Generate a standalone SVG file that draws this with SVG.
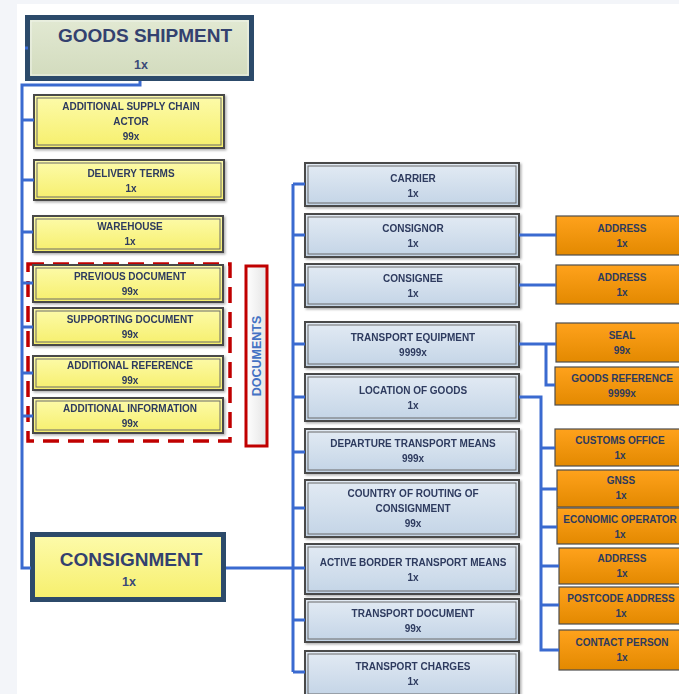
<svg xmlns="http://www.w3.org/2000/svg" width="679" height="694" viewBox="0 0 679 694">
<defs>
<linearGradient id="gy" x1="0" y1="0" x2="0" y2="1"><stop offset="0" stop-color="#fdfbab"/><stop offset="1" stop-color="#f6ef6c"/></linearGradient>
<linearGradient id="gb" x1="0" y1="0" x2="0" y2="1"><stop offset="0" stop-color="#e3ebf4"/><stop offset="1" stop-color="#c3d4e6"/></linearGradient>
<linearGradient id="go" x1="0" y1="0" x2="0" y2="1"><stop offset="0" stop-color="#ffa21c"/><stop offset="1" stop-color="#e38900"/></linearGradient>
<linearGradient id="gg" x1="0" y1="0" x2="0" y2="1"><stop offset="0" stop-color="#e2e9d3"/><stop offset="1" stop-color="#d2dbbd"/></linearGradient>
<linearGradient id="gd" x1="0" y1="0" x2="1" y2="0"><stop offset="0" stop-color="#ffffff"/><stop offset="1" stop-color="#e4e4e4"/></linearGradient>
<filter id="sh" x="-5%" y="-10%" width="115%" height="130%"><feDropShadow dx="1.5" dy="1.5" stdDeviation="1" flood-color="#000" flood-opacity="0.3"/></filter>
</defs>
<style>
text{font-family:"Liberation Sans",Arial,sans-serif;font-weight:bold;fill:#2d3a5e;text-anchor:middle}
.t{font-size:10px}
.big{font-size:19px;fill:#33416f}
.bx{font-size:12.5px}
.yo{fill:url(#gy);stroke:#4a4a4a;stroke-width:2}
.bo{fill:url(#gb);stroke:#4a4a4a;stroke-width:2}
.in{fill:none;stroke:#6a6a6a;stroke-width:1}
.or{fill:url(#go);stroke:#4d4d4d;stroke-width:1.2}
.c{fill:none;stroke:#3a6ad0;stroke-width:3;stroke-linejoin:miter}
</style>
<rect x="0" y="0" width="679" height="694" fill="#f3f5f9"/>
<rect x="17" y="4" width="662" height="690" fill="#ffffff"/>

<g id="goods-shipment">
<rect x="27.5" y="17.5" width="224" height="61" fill="url(#gg)" stroke="#2c4a6a" stroke-width="5"/>
<rect x="31" y="21" width="217" height="54" fill="none" stroke="#f0f3ea" stroke-width="1"/>
<text class="big" x="145" y="42">GOODS SHIPMENT</text>
<text x="141" y="69" style="font-size:12.5px;fill:#3a4a78">1x</text>
</g>

<g id="documents-group">
<rect x="28" y="264" width="202" height="177" fill="none" stroke="#c00000" stroke-width="3.5" stroke-dasharray="16,9"/>
</g>
<g id="documents-label">
<rect x="246" y="266" width="21" height="180" fill="url(#gd)" stroke="#c00000" stroke-width="3"/>
<text class="bx" transform="translate(261,356) rotate(-90)" style="fill:#4472c4">DOCUMENTS</text>
</g>

<g id="additional-supply-chain-actor" filter="url(#sh)">
<rect class="yo" x="34" y="95" width="190" height="53"/><rect class="in" x="37" y="98" width="184" height="47"/>
<text class="t" x="131" y="110">ADDITIONAL SUPPLY CHAIN</text><text class="t" x="131" y="125">ACTOR</text><text class="t" x="131" y="140">99x</text>
</g>
<g id="delivery-terms" filter="url(#sh)">
<rect class="yo" x="34" y="160" width="190" height="40"/><rect class="in" x="37" y="163" width="184" height="34"/>
<text class="t" x="131" y="177">DELIVERY TERMS</text><text class="t" x="131" y="192">1x</text>
</g>
<g id="warehouse" filter="url(#sh)">
<rect class="yo" x="33" y="216" width="190" height="36"/><rect class="in" x="36" y="219" width="184" height="30"/>
<text class="t" x="130" y="230">WAREHOUSE</text><text class="t" x="130" y="245">1x</text>
</g>
<g id="previous-document" filter="url(#sh)">
<rect class="yo" x="33" y="265" width="190" height="37"/><rect class="in" x="36" y="268" width="184" height="31"/>
<text class="t" x="130" y="280">PREVIOUS DOCUMENT</text><text class="t" x="130" y="295">99x</text>
</g>
<g id="supporting-document" filter="url(#sh)">
<rect class="yo" x="33" y="308" width="190" height="37"/><rect class="in" x="36" y="311" width="184" height="31"/>
<text class="t" x="130" y="323">SUPPORTING DOCUMENT</text><text class="t" x="130" y="338">99x</text>
</g>
<g id="additional-reference" filter="url(#sh)">
<rect class="yo" x="33" y="356" width="190" height="34"/><rect class="in" x="36" y="359" width="184" height="28"/>
<text class="t" x="130" y="369">ADDITIONAL REFERENCE</text><text class="t" x="130" y="384">99x</text>
</g>
<g id="additional-information" filter="url(#sh)">
<rect class="yo" x="33" y="398" width="190" height="35"/><rect class="in" x="36" y="401" width="184" height="29"/>
<text class="t" x="130" y="412">ADDITIONAL INFORMATION</text><text class="t" x="130" y="427">99x</text>
</g>

<g id="consignment">
<rect x="32.5" y="534.5" width="191" height="65" fill="url(#gy)" stroke="#2c4a6a" stroke-width="5"/>
<text class="big" x="131" y="566">CONSIGNMENT</text>
<text x="129" y="586" style="font-size:12.5px;fill:#3a4a78">1x</text>
</g>

<g id="carrier" filter="url(#sh)">
<rect class="bo" x="305" y="163" width="214" height="43"/><rect class="in" x="308" y="166" width="208" height="37"/>
<text class="t" x="413" y="182">CARRIER</text><text class="t" x="413" y="197">1x</text>
</g>
<g id="consignor" filter="url(#sh)">
<rect class="bo" x="305" y="214" width="214" height="43"/><rect class="in" x="308" y="217" width="208" height="37"/>
<text class="t" x="413" y="232">CONSIGNOR</text><text class="t" x="413" y="247">1x</text>
</g>
<g id="consignee" filter="url(#sh)">
<rect class="bo" x="305" y="264" width="214" height="43"/><rect class="in" x="308" y="267" width="208" height="37"/>
<text class="t" x="413" y="282">CONSIGNEE</text><text class="t" x="413" y="297">1x</text>
</g>
<g id="transport-equipment" filter="url(#sh)">
<rect class="bo" x="305" y="322" width="214" height="45"/><rect class="in" x="308" y="325" width="208" height="39"/>
<text class="t" x="413" y="341">TRANSPORT EQUIPMENT</text><text class="t" x="413" y="356">9999x</text>
</g>
<g id="location-of-goods" filter="url(#sh)">
<rect class="bo" x="305" y="374" width="214" height="47"/><rect class="in" x="308" y="377" width="208" height="41"/>
<text class="t" x="413" y="394">LOCATION OF GOODS</text><text class="t" x="413" y="409">1x</text>
</g>
<g id="departure-transport-means" filter="url(#sh)">
<rect class="bo" x="305" y="429" width="214" height="44"/><rect class="in" x="308" y="432" width="208" height="38"/>
<text class="t" x="413" y="447">DEPARTURE TRANSPORT MEANS</text><text class="t" x="413" y="462">999x</text>
</g>
<g id="country-of-routing" filter="url(#sh)">
<rect class="bo" x="305" y="480" width="214" height="57"/><rect class="in" x="308" y="483" width="208" height="51"/>
<text class="t" x="413" y="497">COUNTRY OF ROUTING OF</text><text class="t" x="413" y="512">CONSIGNMENT</text><text class="t" x="413" y="527">99x</text>
</g>
<g id="active-border-transport-means" filter="url(#sh)">
<rect class="bo" x="305" y="544" width="214" height="50"/><rect class="in" x="308" y="547" width="208" height="44"/>
<text class="t" x="413" y="566">ACTIVE BORDER TRANSPORT MEANS</text><text class="t" x="413" y="581">1x</text>
</g>
<g id="transport-document" filter="url(#sh)">
<rect class="bo" x="305" y="599" width="214" height="43"/><rect class="in" x="308" y="602" width="208" height="37"/>
<text class="t" x="413" y="617">TRANSPORT DOCUMENT</text><text class="t" x="413" y="632">99x</text>
</g>
<g id="transport-charges" filter="url(#sh)">
<rect class="bo" x="305" y="651" width="214" height="46"/><rect class="in" x="308" y="654" width="208" height="40"/>
<text class="t" x="413" y="670">TRANSPORT CHARGES</text><text class="t" x="413" y="685">1x</text>
</g>

<g id="consignor-address">
<rect class="or" x="556" y="216" width="128" height="39"/>
<text class="t" x="622" y="232">ADDRESS</text><text class="t" x="622" y="247">1x</text>
</g>
<g id="consignee-address">
<rect class="or" x="556" y="265" width="128" height="39"/>
<text class="t" x="622" y="281">ADDRESS</text><text class="t" x="622" y="296">1x</text>
</g>
<g id="seal">
<rect class="or" x="556" y="323" width="128" height="39"/>
<text class="t" x="622" y="339">SEAL</text><text class="t" x="622" y="354">99x</text>
</g>
<g id="goods-reference">
<rect class="or" x="555" y="367" width="128" height="38"/>
<text class="t" x="622" y="382">GOODS REFERENCE</text><text class="t" x="622" y="397">9999x</text>
</g>
<g id="customs-office">
<rect class="or" x="555" y="429" width="128" height="37"/>
<text class="t" x="620" y="444">CUSTOMS OFFICE</text><text class="t" x="620" y="459">1x</text>
</g>
<g id="gnss">
<rect class="or" x="557" y="470" width="128" height="37"/>
<text class="t" x="621" y="484">GNSS</text><text class="t" x="621" y="499">1x</text>
</g>
<g id="economic-operator">
<rect class="or" x="557" y="508" width="128" height="36"/>
<text class="t" x="620" y="523">ECONOMIC OPERATOR</text><text class="t" x="620" y="538">1x</text>
</g>
<g id="location-address">
<rect class="or" x="559" y="548" width="128" height="36"/>
<text class="t" x="622" y="562">ADDRESS</text><text class="t" x="622" y="577">1x</text>
</g>
<g id="postcode-address">
<rect class="or" x="559" y="587" width="128" height="37"/>
<text class="t" x="621" y="602">POSTCODE ADDRESS</text><text class="t" x="621" y="617">1x</text>
</g>
<g id="contact-person">
<rect class="or" x="559" y="630" width="128" height="40"/>
<text class="t" x="622" y="646">CONTACT PERSON</text><text class="t" x="622" y="661">1x</text>
</g>

<g id="connectors">
<path class="c" d="M140,81 V85 H22 V568 H31"/>
<path class="c" d="M25,48 H28"/>
<path class="c" d="M22,120 H34 M22,180 H34 M22,232 H33 M22,283 H33 M22,327 H33 M22,373 H33 M22,416 H33"/>
<path class="c" d="M226,568 H293 M293,184 V672"/>
<path class="c" d="M293,184 H305 M293,235 H305 M293,285 H305 M293,344 H305 M293,397 H305 M293,452 H305 M293,508 H305 M293,568 H305 M293,620 H305 M293,672 H305"/>
<path class="c" d="M519,235 H556 M519,285 H556 M519,344 H556 M546,344 V385 H555"/>
<path class="c" d="M519,397 H541 V650 H559 M541,448 H555 M541,489 H557 M541,527 H557 M541,566 H559 M541,605 H559"/>
</g>
</svg>
